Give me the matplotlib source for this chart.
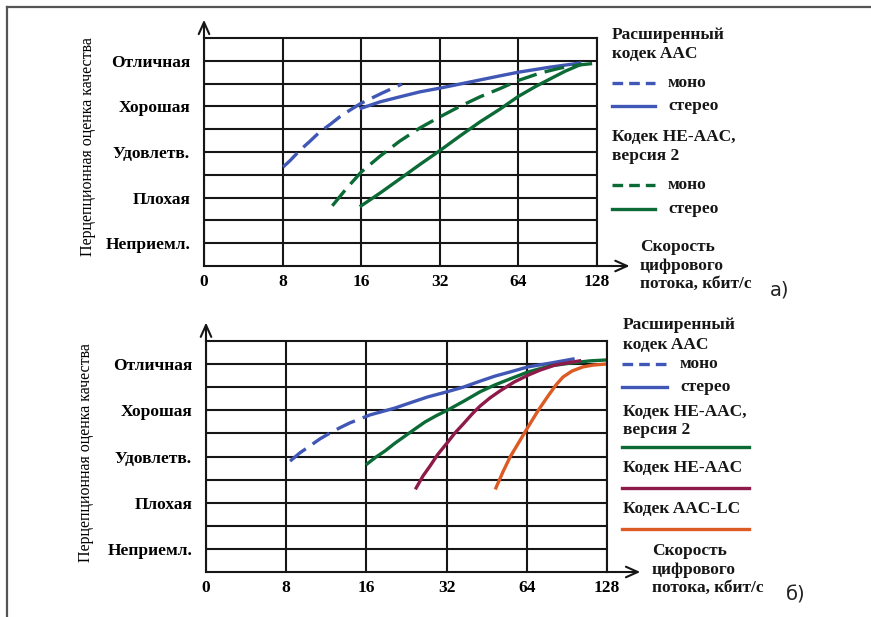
import numpy as np
import matplotlib
matplotlib.use('Agg')
import matplotlib.pyplot as plt
from matplotlib.lines import Line2D
from matplotlib.ticker import NullLocator, FixedLocator

plt.rcParams['font.family'] = ['Liberation Serif', 'DejaVu Serif']

# ---------------- data ----------------
quality_labels = ['Неприемл.', 'Плохая', 'Удовлетв.', 'Хорошая', 'Отличная']
quality_levels = [1, 2, 3, 4, 5]
rate_ticks = [4, 8, 16, 32, 64, 128]
rate_tick_labels = ['0', '8', '16', '32', '64', '128']

# panel a
a_aac_mono_x = [8.03, 8.54, 9.33, 10.2, 11.1, 12.2, 13.3, 14.6, 16.0, 19.2, 22.9]
a_aac_mono_y = [2.67, 2.81, 3.04, 3.24, 3.44, 3.61, 3.78, 3.93, 4.07, 4.29, 4.49]
a_aac_stereo_x = [16.0, 18.9, 22.5, 26.9, 32.0, 38.2, 45.6, 54.4, 64.0, 84.5, 110.0]
a_aac_stereo_y = [3.96, 4.10, 4.21, 4.32, 4.40, 4.49, 4.58, 4.67, 4.75, 4.86, 4.95]
a_he2_mono_x = [12.4, 14.1, 16.0, 18.9, 22.5, 26.9, 32.0, 38.2, 45.6, 54.4, 64.0,
                77.4, 92.4, 110.0, 128.0]
a_he2_mono_y = [1.82, 2.21, 2.56, 2.91, 3.24, 3.53, 3.77, 4.00, 4.21, 4.39, 4.57,
                4.73, 4.84, 4.91, 4.95]
a_he2_stereo_x = [16.0, 18.9, 22.5, 26.9, 32.0, 38.2, 45.6, 54.4, 64.0, 74.1, 84.5,
                  96.5, 110.0]
a_he2_stereo_y = [1.82, 2.10, 2.41, 2.73, 3.03, 3.35, 3.66, 3.94, 4.22, 4.43, 4.60,
                  4.77, 4.91]

# panel b
b_aac_mono_x = [8.27, 9.01, 9.83, 10.7, 11.7, 12.7, 13.9, 15.1, 16.5, 18.0]
b_aac_mono_y = [2.90, 3.08, 3.23, 3.38, 3.51, 3.62, 3.73, 3.81, 3.90, 3.96]
b_aac_stereo_x = [18.0, 20.5, 23.3, 27.2, 32.1, 36.9, 42.7, 48.6, 55.4, 64.7, 78.2, 95.4]
b_aac_stereo_y = [3.96, 4.05, 4.16, 4.29, 4.40, 4.50, 4.63, 4.74, 4.83, 4.94, 5.02, 5.11]
b_he2_x = [16.1, 17.4, 18.8, 20.5, 22.3, 24.4, 26.6, 29.2, 32.4, 37.2, 42.7, 48.6,
           55.4, 64.7, 78.2, 93.0, 110.5, 128.0]
b_he2_y = [2.84, 2.99, 3.12, 3.29, 3.44, 3.60, 3.75, 3.88, 4.01, 4.20, 4.40, 4.55,
           4.68, 4.83, 4.96, 5.02, 5.07, 5.09]
b_he_x = [24.6, 26.1, 27.7, 29.7, 32.1, 34.4, 36.9, 39.9, 42.7, 46.6, 50.8, 57.3,
          64.7, 71.8, 81.7, 101.0]
b_he_y = [2.32, 2.58, 2.79, 3.05, 3.29, 3.51, 3.70, 3.92, 4.09, 4.27, 4.42, 4.61,
          4.76, 4.87, 4.98, 5.07]
b_lc_x = [49.0, 52.1, 55.4, 59.8, 64.7, 70.5, 76.9, 82.4, 87.5, 94.6, 104.0, 114.0, 126.0]
b_lc_y = [2.32, 2.67, 2.99, 3.31, 3.64, 3.99, 4.31, 4.55, 4.72, 4.85, 4.94, 4.98, 5.00]

BLUE = '#4157b5'
GREEN = '#0b6a35'
MAROON = '#8e1a4a'
ORANGE = '#dc5a24'
GRID = '#161616'

W, H = 871, 617
fig = plt.figure(figsize=(W / 100, H / 100), dpi=100)
fig.patch.set_facecolor('white')


def P(px, py):
    return (px / W, 1 - py / H)


def make_axes(l, t, r, b):
    x0, y1 = P(l, t)
    x1, y0 = P(r, b)
    ax = fig.add_axes([x0, y0, x1 - x0, y1 - y0])
    ax.set_xscale('log', base=2)
    ax.set_xlim(rate_ticks[0], rate_ticks[-1])
    ax.set_ylim(0.5, 5.5)
    ax.xaxis.set_major_locator(FixedLocator(rate_ticks))
    ax.set_xticklabels(rate_tick_labels)
    ax.xaxis.set_minor_locator(NullLocator())
    ax.set_yticks(quality_levels)
    ax.set_yticklabels(quality_labels)
    ax.yaxis.set_minor_locator(FixedLocator(np.arange(1.5, 5.5, 1.0)))
    ax.grid(True, which='both', color=GRID, lw=1.5)
    ax.tick_params(which='both', length=0)
    ax.tick_params(axis='y', pad=10, labelsize=12.5)
    ax.tick_params(axis='x', pad=6, labelsize=12.5)
    for lab in ax.get_xticklabels() + ax.get_yticklabels():
        lab.set_fontweight('bold')
    for s in ax.spines.values():
        s.set_color(GRID)
        s.set_linewidth(1.5)
    ax.set_axisbelow(True)
    ap = dict(arrowstyle='->,head_length=0.85,head_width=0.38', lw=1.5,
              color=GRID, shrinkA=0, shrinkB=0)
    ax.annotate('', xy=(0, 1.08), xytext=(0, 1.0), xycoords='axes fraction',
                arrowprops=ap, annotation_clip=False)
    ax.annotate('', xy=(1.083, 0), xytext=(1.0, 0), xycoords='axes fraction',
                arrowprops=ap, annotation_clip=False)
    return ax


LW = 2.4
DASH = (6, 2.5)

# ---------- panel a ----------
axa = make_axes(204, 38, 597, 266)
axa.plot(a_aac_mono_x, a_aac_mono_y, color=BLUE, lw=LW, dashes=DASH)
axa.plot(a_aac_stereo_x, a_aac_stereo_y, color=BLUE, lw=LW)
axa.plot(a_he2_mono_x, a_he2_mono_y, color=GREEN, lw=LW, dashes=DASH)
axa.plot(a_he2_stereo_x, a_he2_stereo_y, color=GREEN, lw=LW)

# ---------- panel b ----------
axb = make_axes(206, 341, 607, 572)
axb.plot(b_aac_mono_x, b_aac_mono_y, color=BLUE, lw=LW, dashes=DASH)
axb.plot(b_aac_stereo_x, b_aac_stereo_y, color=BLUE, lw=LW)
axb.plot(b_he2_x, b_he2_y, color=GREEN, lw=LW)
axb.plot(b_he_x, b_he_y, color=MAROON, lw=LW)
axb.plot(b_lc_x, b_lc_y, color=ORANGE, lw=LW)

# y labels
ylab = 'Перцепционная оценка качества'
fig.text(*P(88, 147), ylab, rotation=90, ha='center', va='center', fontsize=11.5)
fig.text(*P(86, 453), ylab, rotation=90, ha='center', va='center', fontsize=11.5)

TFS = 12.5


def ftext(px, py, s, **kw):
    d = dict(ha='left', va='center', fontsize=TFS, fontweight='bold', color='#161616')
    d.update(kw)
    fig.text(*P(px, py), s, **d)


def fline(x0, x1, py, color, dashed=False):
    a = P(x0, py)
    b = P(x1, py)
    ln = Line2D([a[0], b[0]], [a[1], b[1]], transform=fig.transFigure,
                color=color, lw=LW)
    if dashed:
        ln.set_dashes((3.2, 1.8))
    fig.add_artist(ln)


# legend a
ftext(612, 35, 'Расширенный')
ftext(612, 54, 'кодек AAC')
fline(612, 655, 83, BLUE, True)
ftext(668, 83, 'моно')
fline(612, 655, 106, BLUE)
ftext(668, 106, 'стерео')
ftext(612, 137, 'Кодек HE-AAC,')
ftext(612, 156, 'версия 2')
fline(612, 655, 185, GREEN, True)
ftext(668, 185, 'моно')
fline(612, 655, 209, GREEN)
ftext(668, 209, 'стерео')
ftext(640, 247, 'Скорость')
ftext(640, 266, 'цифрового')
ftext(640, 284, 'потока, кбит/с')
fig.text(*P(770, 290), 'а)', ha='left', va='center', fontsize=14,
         family='DejaVu Sans', color='#222222')

# legend b
ftext(623, 325, 'Расширенный')
ftext(623, 345, 'кодек AAC')
fline(622, 667, 364, BLUE, True)
ftext(680, 364, 'моно')
fline(622, 667, 387, BLUE)
ftext(680, 387, 'стерео')
ftext(623, 412, 'Кодек HE-AAC,')
ftext(623, 430, 'версия 2')
fline(622, 749, 447, GREEN)
ftext(623, 468, 'Кодек HE-AAC')
fline(622, 749, 488, MAROON)
ftext(623, 509, 'Кодек AAC-LC')
fline(622, 749, 529, ORANGE)
ftext(652, 551, 'Скорость')
ftext(652, 570, 'цифрового')
ftext(652, 588, 'потока, кбит/с')
fig.text(*P(786, 595), 'б)', ha='left', va='center', fontsize=14,
         family='DejaVu Sans', color='#222222')

# outer frame (top and left edges)
for xs, ys in [((7, 871), (7, 7)), ((7, 7), (7, 617))]:
    a = P(xs[0], ys[0])
    b = P(xs[1], ys[1])
    fig.add_artist(Line2D([a[0], b[0]], [a[1], b[1]], transform=fig.transFigure,
                          color='#555555', lw=1.6))

fig.savefig('out.png', dpi=100, facecolor='white')
